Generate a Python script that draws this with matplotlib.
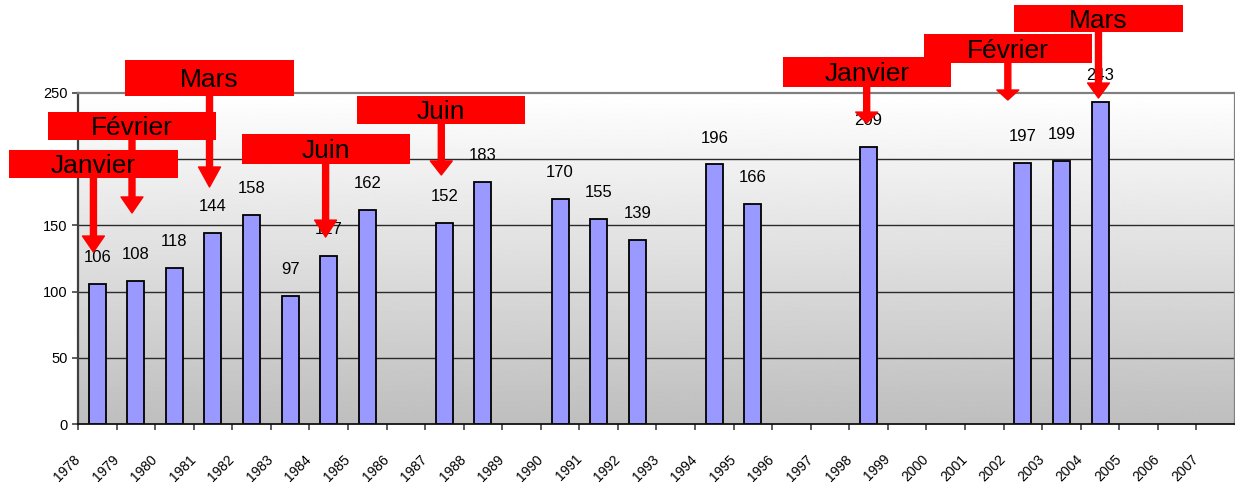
import numpy as np
import matplotlib
matplotlib.use("Agg")
import matplotlib.pyplot as plt
from matplotlib.patches import Rectangle, FancyArrowPatch, ArrowStyle

plt.rcParams['font.family'] = ['Liberation Sans', 'DejaVu Sans']

# ---- data -------------------------------------------------------------
axis_years = list(range(1978, 2008))
bar_years = [1978, 1979, 1980, 1981, 1982, 1983, 1984, 1985, 1987, 1988,
             1990, 1991, 1992, 1994, 1995, 1998, 2002, 2003, 2004]
bar_values = [106, 108, 118, 144, 158, 97, 127, 162, 152, 183,
              170, 155, 139, 196, 166, 209, 197, 199, 243]

callout_months = ['Janvier', 'Février', 'Mars', 'Juin', 'Juin',
                  'Janvier', 'Février', 'Mars']

# ---- callout layout: box centre (year), box bottom/top and arrow tip (y units),
# arrow head length (points)
callout_cx = [1978.40, 1979.40, 1981.41, 1984.42, 1987.42, 1998.45, 2002.11, 2004.46]
callout_bottom = [185.8, 214.5, 247.7, 196.4, 226.6, 254.5, 272.7, 296.0]
callout_top = [207.0, 235.6, 274.9, 219.0, 247.7, 277.2, 294.6, 316.5]
callout_tip = [129.9, 159.4, 179.0, 141.2, 188.1, 227.3, 244.7, 246.2]
callout_head = [11.5, 11.5, 14.4, 12.2, 10.1, 7.9, 7.2, 10.8]
BOX_W = 4.36

W, H = 1235, 483
fig = plt.figure(figsize=(W / 100, H / 100), dpi=100)
ax = fig.add_axes([78 / W, 59 / H, 1157 / W, 331 / H])

x0, x1 = 1978, 2008
y0, y1 = 0, 250
ax.set_xlim(x0, x1)
ax.set_ylim(y0, y1)

# background gradient: white at top to light grey at bottom
grad = np.linspace(1.0, 0.745, 256).reshape(-1, 1)
ax.imshow(grad, extent=[x0, x1, y0, y1], aspect='auto', cmap='gray',
          vmin=0, vmax=1, origin='upper', zorder=0, interpolation='bilinear')

# horizontal gridlines
for yv in [50, 100, 150, 200]:
    ax.axhline(yv, color='#2a2a2a', lw=1.0, zorder=1)

# bars centred in the middle of each year
bar_x = [y + 0.5 for y in bar_years]
ax.bar(bar_x, bar_values, width=0.44, color='#9999ff', edgecolor='black',
       linewidth=1.3, zorder=2)

for xb, v in zip(bar_x, bar_values):
    ax.annotate(str(v), xy=(xb, v), xytext=(0, 15.8), textcoords='offset points',
                ha='center', va='baseline', fontsize=12,
                color='black', zorder=3)

# axes styling
for side in ['top', 'right']:
    ax.spines[side].set_color('#808080')
    ax.spines[side].set_linewidth(1.6)
ax.spines['left'].set_color('#404040')
ax.spines['left'].set_linewidth(1.6)
ax.spines['bottom'].set_color('#111111')
ax.spines['bottom'].set_linewidth(1.3)

ax.set_yticks([0, 50, 100, 150, 200, 250])
ax.set_yticklabels(['0', '50', '100', '150', '200', '250'])
ax.set_xticks(axis_years)
ax.set_xticklabels([str(y) for y in axis_years])
ax.tick_params(axis='y', direction='out', length=4.3, width=1.1, color='#333333',
               labelsize=10.5, pad=3)
ax.tick_params(axis='x', direction='out', length=4.3, width=1.1, color='#333333',
               labelsize=10, pad=19.5)
for lbl in ax.get_xticklabels():
    lbl.set_rotation(45)
    lbl.set_ha('right')
    lbl.set_va('center')
    lbl.set_rotation_mode('anchor')

# month callouts: red box with a downward red arrow
for m, cx, bot, top, tip, head in zip(callout_months, callout_cx, callout_bottom,
                                      callout_top, callout_tip, callout_head):
    ax.add_patch(Rectangle((cx - BOX_W / 2, bot), BOX_W, top - bot,
                           facecolor='#ff0000', edgecolor='none',
                           clip_on=False, zorder=5))
    arr = FancyArrowPatch((cx, bot + 1), (cx, tip),
                          arrowstyle=ArrowStyle.Simple(head_length=head,
                                                       head_width=15.8,
                                                       tail_width=4.3),
                          mutation_scale=1, shrinkA=0, shrinkB=0,
                          color='#ff0000', clip_on=False, zorder=5)
    ax.add_patch(arr)
    ax.annotate(m, xy=(cx, (bot + top) / 2), xytext=(0, -6.8),
                textcoords='offset points', ha='center', va='baseline',
                fontsize=19, color='black', zorder=6, annotation_clip=False)

fig.savefig('out.png', dpi=100)
